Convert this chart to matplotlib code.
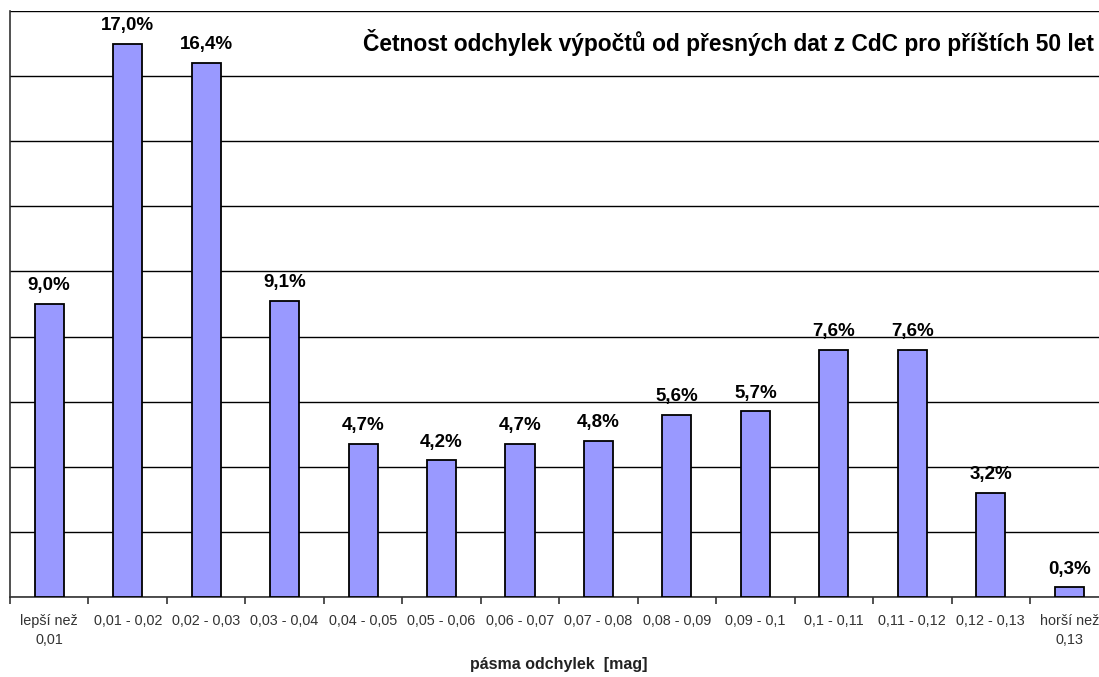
import matplotlib.pyplot as plt
import numpy as np

plt.rcParams["font.family"] = ["Liberation Sans", "DejaVu Sans"]

categories = [
    "lepší než\n0,01", "0,01 - 0,02", "0,02 - 0,03", "0,03 - 0,04",
    "0,04 - 0,05", "0,05 - 0,06", "0,06 - 0,07", "0,07 - 0,08",
    "0,08 - 0,09", "0,09 - 0,1", "0,1 - 0,11", "0,11 - 0,12",
    "0,12 - 0,13", "horší než\n0,13",
]
percent = [9.0, 17.0, 16.4, 9.1, 4.7, 4.2, 4.7, 4.8, 5.6, 5.7, 7.6, 7.6, 3.2, 0.3]

title = "Četnost odchylek výpočtů od přesných dat z CdC pro příštích 50 let"
xlabel = "pásma odchylek  [mag]"

fig = plt.figure(figsize=(10.99, 6.77), dpi=100)
ax = fig.add_axes([10 / 1099, 80 / 677, 1089 / 1099, 586 / 677])

x = np.arange(len(categories))
bars = ax.bar(x, percent, width=0.37, color="#9999FF", edgecolor="black",
              linewidth=1.3, zorder=3)

for bar, v in zip(bars, percent):
    ax.annotate(f"{v:.1f}%".replace(".", ","),
                (bar.get_x() + bar.get_width() / 2, bar.get_height()),
                xytext=(0, 7), textcoords="offset points",
                ha="center", va="bottom", fontsize=13.5, fontweight="bold")

# horizontal grid every 2 %
ax.set_ylim(0, 18)
ax.set_yticks(np.arange(0, 19, 2))
ax.yaxis.grid(True, color="black", linewidth=1.0, zorder=0)
ax.tick_params(axis="y", left=False, labelleft=False)

ax.set_xlim(-0.5, -0.5 + 1089 / 78.46)
ax.set_xticks(x)
ax.set_xticklabels(categories, fontsize=10.4, color="#333333", linespacing=1.5)
ax.set_xticks(np.arange(len(categories)) - 0.5, minor=True)
ax.tick_params(axis="x", which="major", length=0, pad=12)
ax.tick_params(axis="x", which="minor", length=5, width=1.2, color="#333333")

for side in ["top", "right"]:
    ax.spines[side].set_visible(False)
ax.spines["left"].set_color("#333333")
ax.spines["left"].set_linewidth(1.2)
ax.spines["bottom"].set_color("#333333")
ax.spines["bottom"].set_linewidth(1.2)
ax.axhline(18, color="#999999", linewidth=1.2, zorder=1)

fig.text(0.995, 1 - 42 / 677, title, ha="right", va="center",
         fontsize=16.4, fontweight="bold")
fig.text(559 / 1099, 1 - 665 / 677, xlabel, ha="center", va="center",
         fontsize=11.5, fontweight="bold", color="#222222")

plt.savefig("out.png", dpi=100)
